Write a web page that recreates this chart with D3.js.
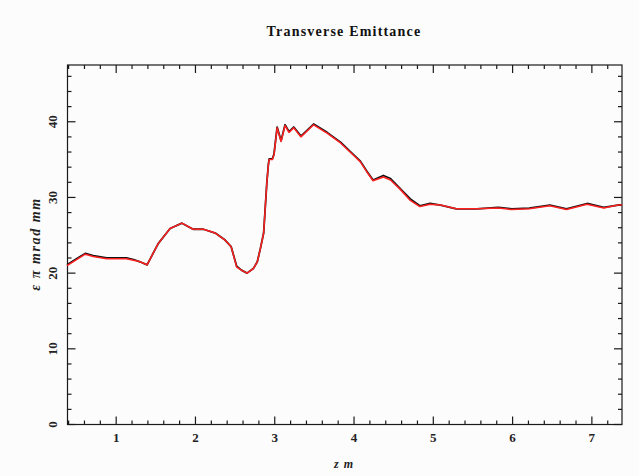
<!DOCTYPE html>
<html>
<head>
<meta charset="utf-8">
<script src="https://cdn.jsdelivr.net/npm/d3@7"></script>
<style>
  html, body { margin: 0; padding: 0; background: #fcfcfc; }
  svg { display: block; }
</style>
</head>
<body>
<script>
// Beam-line position z (m)
const zPos = [0.38, 0.50, 0.61, 0.71, 0.88, 1.13, 1.22, 1.30, 1.39, 1.53, 1.68, 1.83, 1.97, 2.10, 2.25, 2.37, 2.45, 2.52, 2.58, 2.65, 2.73, 2.78, 2.82, 2.86, 2.90, 2.92, 2.93, 2.97, 2.99, 3.03, 3.08, 3.13, 3.18, 3.24, 3.33, 3.49, 3.66, 3.83, 3.99, 4.08, 4.16, 4.24, 4.37, 4.46, 4.58, 4.71, 4.83, 4.96, 5.09, 5.29, 5.55, 5.82, 5.99, 6.21, 6.47, 6.68, 6.94, 7.15, 7.33, 7.38];
// Emittance, first run (black)
const emitBlack = [21.1, 21.9, 22.6, 22.3, 22.0, 22.0, 21.8, 21.5, 21.1, 23.9, 25.9, 26.6, 25.8, 25.8, 25.3, 24.4, 23.5, 20.9, 20.4, 20.0, 20.6, 21.5, 23.3, 25.3, 31.9, 34.4, 35.1, 35.1, 35.7, 39.3, 37.5, 39.6, 38.7, 39.3, 38.1, 39.7, 38.6, 37.3, 35.7, 34.8, 33.5, 32.3, 32.9, 32.5, 31.2, 29.8, 28.9, 29.2, 29.0, 28.5, 28.5, 28.7, 28.5, 28.6, 29.0, 28.5, 29.2, 28.7, 29.0, 29.0];
// Emittance, second run (red)
const emitRed = [21.0, 21.8, 22.5, 22.2, 21.9, 21.9, 21.7, 21.5, 21.1, 23.9, 25.9, 26.6, 25.8, 25.8, 25.3, 24.4, 23.5, 20.8, 20.4, 20.0, 20.6, 21.5, 23.3, 25.3, 31.9, 34.3, 35.0, 35.0, 35.6, 39.2, 37.4, 39.5, 38.6, 39.2, 38.0, 39.6, 38.5, 37.2, 35.6, 34.7, 33.4, 32.2, 32.7, 32.3, 31.1, 29.6, 28.8, 29.1, 29.0, 28.5, 28.5, 28.6, 28.4, 28.5, 28.9, 28.4, 29.1, 28.6, 29.0, 29.0];

const xTicks = [1, 2, 3, 4, 5, 6, 7];
const yTicks = [0, 10, 20, 30, 40];

const W = 639, H = 476;
const plotLeft = 67.5, plotRight = 622, plotTop = 65, plotBottom = 424.5;

const svg = d3.select("body").append("svg").attr("width", W).attr("height", H);
svg.append("rect").attr("width", W).attr("height", H).attr("fill", "#fcfcfc");

const x = d3.scaleLinear().domain([0.386, 7.38]).range([plotLeft, plotRight]);
const y = d3.scaleLinear().domain([0, 47.5]).range([plotBottom, plotTop]);

const serif = "'Liberation Serif', 'DejaVu Serif', serif";

// Frame
svg.append("rect")
  .attr("x", plotLeft).attr("y", plotTop)
  .attr("width", plotRight - plotLeft).attr("height", plotBottom - plotTop)
  .attr("fill", "none").attr("stroke", "#1a1a1a").attr("stroke-width", 1.2);

// Inward ticks on all four sides (major + minor)
const xMinor = d3.range(0.4, 7.39, 0.2).filter(v => Math.abs(v - Math.round(v)) > 1e-6);
const yMinor = d3.range(2, 47.5, 2).filter(v => v % 10 !== 0);

const tickG = svg.append("g").attr("stroke", "#1a1a1a").attr("stroke-width", 1.2);
function xTick(v, len) {
  tickG.append("line").attr("x1", x(v)).attr("x2", x(v)).attr("y1", plotBottom).attr("y2", plotBottom - len);
  tickG.append("line").attr("x1", x(v)).attr("x2", x(v)).attr("y1", plotTop).attr("y2", plotTop + len);
}
function yTick(v, len) {
  tickG.append("line").attr("y1", y(v)).attr("y2", y(v)).attr("x1", plotLeft).attr("x2", plotLeft + len);
  tickG.append("line").attr("y1", y(v)).attr("y2", y(v)).attr("x1", plotRight).attr("x2", plotRight - len);
}
xTicks.forEach(v => xTick(v, 8));
xMinor.forEach(v => xTick(v, 4));
yTicks.forEach(v => yTick(v, 8));
yMinor.forEach(v => yTick(v, 4));

// Tick labels
svg.append("g").selectAll("text").data(xTicks).join("text")
  .attr("x", d => x(d)).attr("y", 442)
  .attr("text-anchor", "middle")
  .attr("font-family", serif).attr("font-weight", "bold").attr("font-size", 13)
  .attr("fill", "#222")
  .text(d => d);

svg.append("g").selectAll("text").data(yTicks).join("text")
  .attr("transform", d => `translate(57,${y(d)}) rotate(-90)`)
  .attr("text-anchor", "middle")
  .attr("font-family", serif).attr("font-weight", "bold").attr("font-size", 13)
  .attr("fill", "#222")
  .text(d => d);

// Title and axis titles
svg.append("text")
  .attr("x", 344).attr("y", 36)
  .attr("text-anchor", "middle")
  .attr("font-family", serif).attr("font-weight", "bold").attr("font-size", 14)
  .attr("letter-spacing", 1.2)
  .attr("fill", "#111")
  .text("Transverse Emittance");

svg.append("text")
  .attr("transform", `translate(40,244) rotate(-90)`)
  .attr("text-anchor", "middle")
  .attr("font-family", serif).attr("font-style", "italic").attr("font-weight", "bold").attr("font-size", 14)
  .attr("letter-spacing", 1.6)
  .attr("fill", "#222")
  .text("ε π mrad mm");

svg.append("text")
  .attr("x", 344).attr("y", 468)
  .attr("text-anchor", "middle")
  .attr("font-family", serif).attr("font-style", "italic").attr("font-weight", "bold").attr("font-size", 12)
  .attr("letter-spacing", 1)
  .attr("fill", "#222")
  .text("z m");

// Curves
const line = vals => d3.line()
  .x((d, i) => x(zPos[i]))
  .y(d => y(d))(vals);

svg.append("path")
  .attr("d", line(emitBlack))
  .attr("fill", "none").attr("stroke", "#111").attr("stroke-width", 1.8)
  .attr("stroke-linejoin", "round");

svg.append("path")
  .attr("d", line(emitRed))
  .attr("fill", "none").attr("stroke", "#ff2020").attr("stroke-width", 1.5)
  .attr("stroke-linejoin", "round");
</script>
</body>
</html>
